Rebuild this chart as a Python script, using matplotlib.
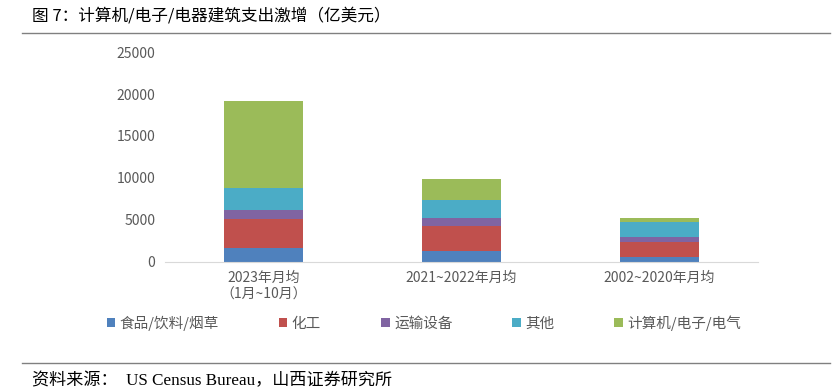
import matplotlib.pyplot as plt
import numpy as np

plt.rcParams['font.family'] = ['Noto Sans CJK SC', 'DejaVu Sans']

# categories and series (亿美元)
categories = ['2023年月均\n（1月~10月）', '2021~2022年月均', '2002~2020年月均']
food = [1670, 1240, 560]
chem = [3420, 3020, 1825]
transport = [1040, 920, 525]
other = [2620, 2145, 1825]
computer = [10410, 2500, 440]

series = [
    ('食品/饮料/烟草', food, '#4F81BD'),
    ('化工', chem, '#C0504D'),
    ('运输设备', transport, '#8064A2'),
    ('其他', other, '#4BACC6'),
    ('计算机/电子/电气', computer, '#9BBB59'),
]

fig = plt.figure(figsize=(8.38, 3.91), dpi=100)
ax = fig.add_axes([165 / 838, 1 - 261.7 / 391, 593 / 838, 209.6 / 391])

x = np.arange(len(categories))
bottom = np.zeros(len(categories))
handles = []
for name, vals, color in series:
    b = ax.bar(x, vals, 0.4, bottom=bottom, color=color, label=name, zorder=2)
    bottom += np.array(vals)
    handles.append(b)

ax.set_xlim(-0.5, 2.5)
ax.set_ylim(0, 25000)
ax.set_yticks(range(0, 25001, 5000))
ax.set_xticks(x)
ax.set_xticklabels(categories)
ax.tick_params(axis='both', length=0, labelsize=10, colors='#595959')
ax.tick_params(axis='x', pad=7)
ax.tick_params(axis='y', pad=7)
for s in ['top', 'right', 'left']:
    ax.spines[s].set_visible(False)
ax.spines['bottom'].set_color('#d9d9d9')

fig.legend(handles=handles, loc='center', bbox_to_anchor=(424 / 838, 1 - 323 / 391),
           ncol=5, frameon=False, fontsize=10.5, handlelength=0.6, handleheight=0.6,
           handletextpad=0.3, columnspacing=4.1, labelcolor='#595959')

# title and source
fig.text(32 / 838, 1 - 16 / 391, '图 7：计算机/电子/电器建筑支出激增（亿美元）',
         fontsize=12, va='center', ha='left')
fig.add_artist(plt.Line2D([22 / 838, 830 / 838], [1 - 33 / 391] * 2, color='#808080', lw=1))
fig.add_artist(plt.Line2D([22 / 838, 830 / 838], [1 - 363 / 391] * 2, color='#808080', lw=1))
fig.text(32 / 838, 1 - 381 / 391, '资料来源：  US Census Bureau，山西证券研究所',
         fontsize=12.3, va='center', ha='left', family=['Liberation Serif', 'Noto Sans CJK SC'])

fig.savefig('out.png', dpi=100)
